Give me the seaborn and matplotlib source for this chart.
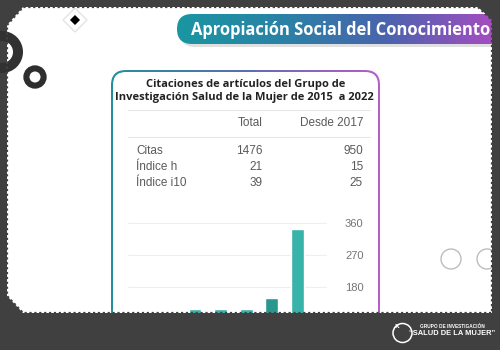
import numpy as np
import pandas as pd
import matplotlib
matplotlib.use("Agg")
import matplotlib.pyplot as plt
import seaborn as sns
from matplotlib.patches import FancyBboxPatch, Circle, Polygon, PathPatch
from matplotlib.path import Path
from matplotlib.colors import LinearSegmentedColormap

# chart data (citations per year)
years = ["2016", "2017", "2018", "2019", "2020", "2021", "2022"]
citations = [85, 100, 116, 116, 117, 147, 343]
bar_colors = ["#38b3a9", "#38b3a9", "#38b3a9", "#38b3a9", "#38b3a9", "#2a978d", "#38b3a9"]
y_ticks = [90, 180, 270, 360]

# summary table
table_columns = ["Total", "Desde 2017"]
table_rows = ["Citas", "Índice h", "Índice i10"]
total_values = [1476, 21, 39]
since_2017_values = [950, 15, 25]

sns.set_theme(style="white")
plt.rcParams["font.family"] = ["Liberation Sans", "DejaVu Sans"]
title_font = ["Open Sans", "DejaVu Sans"]

fig = plt.figure(figsize=(5, 3.5), dpi=100)
fig.patch.set_facecolor("white")

# background layer in pixel coordinates (y grows downwards)
bg = fig.add_axes([0, 0, 1, 1], zorder=0)
bg.axis("off")

# decorations on the slide
bg.add_patch(Circle((35, 77), 8.6, fill=False, ec="#2e2e2e", lw=4.4))
bg.add_patch(Polygon([(75, 8), (87, 20), (75, 32), (63, 20)], closed=True,
                     fc="white", ec="#e4e4e4", lw=1))
bg.add_patch(Polygon([(75, 14), (81, 20), (75, 26), (69, 20)], closed=True, fc="black"))
bg.add_patch(Circle((451, 259), 10, fill=False, ec="#bdbdbd", lw=1))
bg.add_patch(Circle((487, 259), 10, fill=False, ec="#bdbdbd", lw=1))

grad = np.linspace(0, 1, 256).reshape(1, -1)

# banner with gradient
bg.add_patch(FancyBboxPatch((180, 17), 330, 30, boxstyle="round,pad=0,rounding_size=15",
                            fc="black", ec="none", alpha=0.12, zorder=1))
banner = FancyBboxPatch((177, 14), 330, 30, boxstyle="round,pad=0,rounding_size=15",
                        fc="none", ec="none", zorder=2)
bg.add_patch(banner)
banner_cmap = LinearSegmentedColormap.from_list(
    "banner", ["#1a96a2", "#2a82a6", "#4a64ad", "#a44dc1"])
im = bg.imshow(grad, cmap=banner_cmap, extent=(177, 492, 44, 14), aspect="auto", zorder=2)
im.set_clip_path(banner)
bg.text(191, 30, "Apropiación Social del Conocimiento", color="white", fontsize=11.9,
        fontweight="bold", family=title_font, ha="left", va="center", zorder=3)

# card with gradient border
card_outer = FancyBboxPatch((111, 70), 269, 330, boxstyle="round,pad=0,rounding_size=15",
                            fc="none", ec="none", zorder=1)
bg.add_patch(card_outer)
card_cmap = LinearSegmentedColormap.from_list("card", ["#23909e", "#5a6fb2", "#b75ec9"])
im2 = bg.imshow(grad, cmap=card_cmap, extent=(111, 380, 400, 70), aspect="auto", zorder=1)
im2.set_clip_path(card_outer)
bg.add_patch(FancyBboxPatch((113, 72), 265, 330, boxstyle="round,pad=0,rounding_size=13",
                            fc="white", ec="none", zorder=1.5))

bg.text(246, 85, "Citaciones de artículos del Grupo de", fontsize=8.0, fontweight="bold",
        color="#222222", family=title_font, ha="center", va="center", zorder=3)
bg.text(244, 97.5, "Investigación Salud de la Mujer de 2015  a 2022", fontsize=8.0,
        fontweight="bold", color="#222222", family=title_font, ha="center", va="center", zorder=3)

# table
for y in (110, 137):
    bg.plot([128, 370], [y, y], color="#e8e8e8", lw=0.8, zorder=3)
col_x = [263, 363]
for x, name in zip(col_x, table_columns):
    bg.text(x, 123, name, fontsize=8.5, color="#5a5a5a", ha="right", va="center", zorder=3)
for i, name in enumerate(table_rows):
    y = 150.7 + i * 16
    bg.text(136, y, name, fontsize=8.5, color="#5a5a5a", ha="left", va="center", zorder=3)
    bg.text(col_x[0], y, str(total_values[i]), fontsize=8.5, color="#5a5a5a",
            ha="right", va="center", zorder=3)
    bg.text(col_x[1], y, str(since_2017_values[i]), fontsize=8.5, color="#5a5a5a",
            ha="right", va="center", zorder=3)

bg.set_xlim(0, 500)
bg.set_ylim(350, 0)

# bar chart
ax = fig.add_axes([128 / 500, 0, (327 - 128) / 500, (350 - 215) / 350], zorder=1)
ax.patch.set_alpha(0)
df = pd.DataFrame({"year": years, "citations": citations})
sns.barplot(data=df, x="year", y="citations", hue="year",
            palette=dict(zip(years, bar_colors)), width=0.5, saturation=1,
            legend=False, ax=ax)
ax.set_xlim(-0.62, 7.16)
ax.set_ylim(0, 383.3)
ax.yaxis.tick_right()
ax.set_yticks(y_ticks)
ax.set_xticks([])
ax.set_xlabel("")
ax.set_ylabel("")
ax.tick_params(axis="y", length=0, pad=13, labelsize=8, labelcolor="#757575")
ax.grid(axis="y", color="#eeeeee", lw=0.8)
ax.set_axisbelow(True)
for s in ax.spines.values():
    s.set_visible(False)

# dark frame on top (also crops the chart)
ov = fig.add_axes([0, 0, 1, 1], zorder=3)
ov.patch.set_alpha(0)
ov.axis("off")
outer = [(0, 0), (500, 0), (500, 350), (0, 350)]
slide = [(7, 25), (23, 7), (478, 7), (492, 20), (492, 313), (23, 313), (7, 296)]
inner = slide[::-1]
verts = outer + [outer[0]] + inner + [inner[0]]
codes = ([Path.MOVETO] + [Path.LINETO] * 3 + [Path.CLOSEPOLY]
         + [Path.MOVETO] + [Path.LINETO] * (len(inner) - 1) + [Path.CLOSEPOLY])
ov.add_patch(PathPatch(Path(verts, codes), fc="#404040", ec="none"))
sx = [p[0] for p in slide] + [slide[0][0]]
sy = [p[1] for p in slide] + [slide[0][1]]
ov.plot(sx, sy, color="#404040", lw=1.6, linestyle=(0, (1, 1.2)))
ov.add_patch(Circle((2, 52), 16, fill=False, ec="#313131", lw=7.2))

# logo
ov.add_patch(Circle((402.5, 333), 9.5, fill=False, ec="white", lw=1.1))
ov.text(397, 327, "x", color="white", fontsize=6, fontweight="bold", ha="center", va="center")
ov.text(452, 326, "GRUPO DE INVESTIGACIÓN", color="white", fontsize=3.4,
        fontweight="bold", ha="center", va="center")
ov.text(452, 333.5, "“SALUD DE LA MUJER”", color="white", fontsize=5.4,
        fontweight="bold", ha="center", va="center")
ov.set_xlim(0, 500)
ov.set_ylim(350, 0)

fig.savefig("out.png", dpi=100)
